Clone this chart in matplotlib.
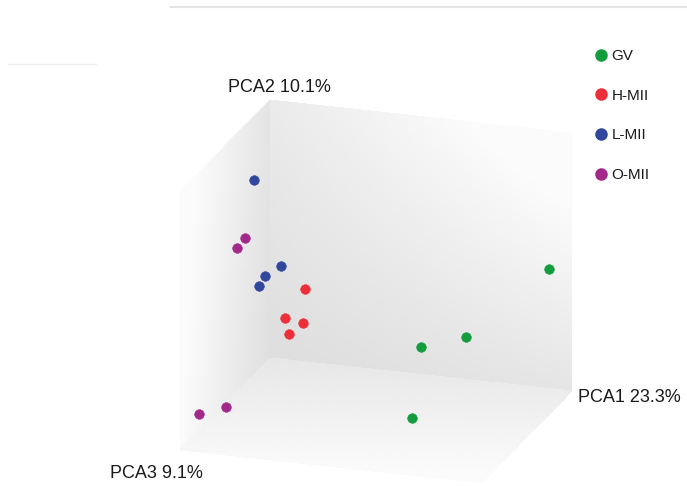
import numpy as np
import matplotlib
matplotlib.use("Agg")
import matplotlib.pyplot as plt
from matplotlib.lines import Line2D
from mpl_toolkits.mplot3d import proj3d

plt.rcParams['font.family'] = ['Liberation Sans', 'DejaVu Sans']

# PCA scores per oocyte group
groups = ['GV', 'H-MII', 'L-MII', 'O-MII']
colors = ['#139c3c', '#ec2f38', '#30479d', '#a2288a']

pc1 = {'GV': [58.5, 36.4, 25.7, 25.7],
       'H-MII': [-10.2, -14.8, -12.1, -12.3],
       'L-MII': [-24.1, -18.7, -22.1, -22.5],
       'O-MII': [-25.4, -26.4, -28.4, -23.0]}
pc2 = {'GV': [3.4, -17.4, -18.8, -38.0],
       'H-MII': [-6.4, -14.5, -18.6, -17.8],
       'L-MII': [27.3, -1.6, -3.7, -5.4],
       'O-MII': [10.6, 8.8, -33.0, -33.0]}
pc3 = {'GV': [-24, -16, -8, 0],
       'H-MII': [-12, -8, -16, -4],
       'L-MII': [-8, -16, -12, -8],
       'O-MII': [-4, 0, 28, 20]}

axis_labels = ['PCA1 23.3%', 'PCA2 10.1%', 'PCA3 9.1%']

# axis ranges (mpl x = PCA3, y = PCA1, z = PCA2)
r1 = (-30, 60)
r2 = (-40, 40)
r3 = (-40, 40)

W, H = 687, 486
fig = plt.figure(figsize=(W / 100, H / 100), dpi=100)
ax = fig.add_axes([0.1, 0.0, 0.8 * H / W, 0.8], projection='3d')
ax.computed_zorder = False
ax.set_proj_type('ortho')
ax.view_init(elev=19.5, azim=18.1)
ax.set_box_aspect((290, 318, 274))
ax.set_xlim(*r3)
ax.set_ylim(*r1)
ax.set_zlim(*r2)
ax.set_axis_off()


def pane(X, Y, Z, shade, zo):
    shade = np.clip(shade, 0, 0.985)
    fc = np.dstack([shade, shade, shade, np.ones_like(shade)])
    ax.plot_surface(X, Y, Z, facecolors=fc, shade=False, linewidth=0,
                    antialiased=False, rstride=1, cstride=1, zorder=zo)


n = 60
u, v = np.meshgrid(np.linspace(0, 1, n), np.linspace(0, 1, n))
lerp = lambda r, t: r[0] + (r[1] - r[0]) * t

# back wall (PCA1 x PCA2)
pane(np.full_like(u, r3[0]), lerp(r1, u), lerp(r2, v),
     0.87 + 0.03 * u + 0.05 * v + 0.07 * u * v, 0)
# left wall (PCA3 x PCA2)
pane(lerp(r3, u), np.full_like(u, r1[0]), lerp(r2, v),
     0.875 + 0.11 * u + 0.02 * v, 1)
# floor (PCA3 x PCA1)
pane(lerp(r3, v), lerp(r1, u), np.full_like(u, r2[0]),
     0.905 + 0.02 * u + 0.065 * v, 2)

handles = []
for g, c in zip(groups, colors):
    ax.scatter(pc3[g], pc1[g], pc2[g], s=48, c=c, edgecolors=c,
               linewidths=0.4, depthshade=False, zorder=10)
    handles.append(Line2D([], [], marker='o', ls='', ms=8,
                          mfc=c, mec=c, label=g))


# place the box so its back corner and vertical edge sit where wanted
def to_px(x, y, z):
    xs, ys, _ = proj3d.proj_transform(x, y, z, ax.get_proj())
    return ax.transData.transform((xs, ys))


fig.canvas.draw()
o = to_px(r3[0], r1[0], r2[0])
t = to_px(r3[0], r1[0], r2[1])
k = 258.0 / (t[1] - o[1])
bb = ax.get_window_extent()
cx, cy = (bb.x0 + bb.x1) / 2, (bb.y0 + bb.y1) / 2
target = np.array([270.0, H - 358.0])
ncx = target[0] - k * (o[0] - cx)
ncy = target[1] - k * (o[1] - cy)
nw, nh = bb.width * k, bb.height * k
ax.set_position([(ncx - nw / 2) / W, (ncy - nh / 2) / H, nw / W, nh / H])

txt = dict(fontsize=13, color='#1a1a1a')
fig.text(228 / W, 1 - 87 / H, axis_labels[1], va='center', ha='left', **txt)
fig.text(578 / W, 1 - 397 / H, axis_labels[0], va='center', ha='left', **txt)
fig.text(110 / W, 1 - 473 / H, axis_labels[2], va='center', ha='left', **txt)

fig.legend(handles=handles, loc='upper left', bbox_to_anchor=(588 / W, 1 - 43 / H),
           frameon=False, fontsize=11, labelspacing=1.68, handletextpad=0.25,
           handlelength=0.9, borderaxespad=0, labelcolor='#1a1a1a')

# thin frame remnants along the top
fig.add_artist(Line2D([171 / W, 1], [1 - 7 / H, 1 - 7 / H], color='#e4e4e4', lw=1.5))
fig.add_artist(Line2D([8 / W, 96 / W], [1 - 64 / H, 1 - 64 / H], color='#f0f0f0', lw=1))

fig.savefig('out.png', dpi=100)
